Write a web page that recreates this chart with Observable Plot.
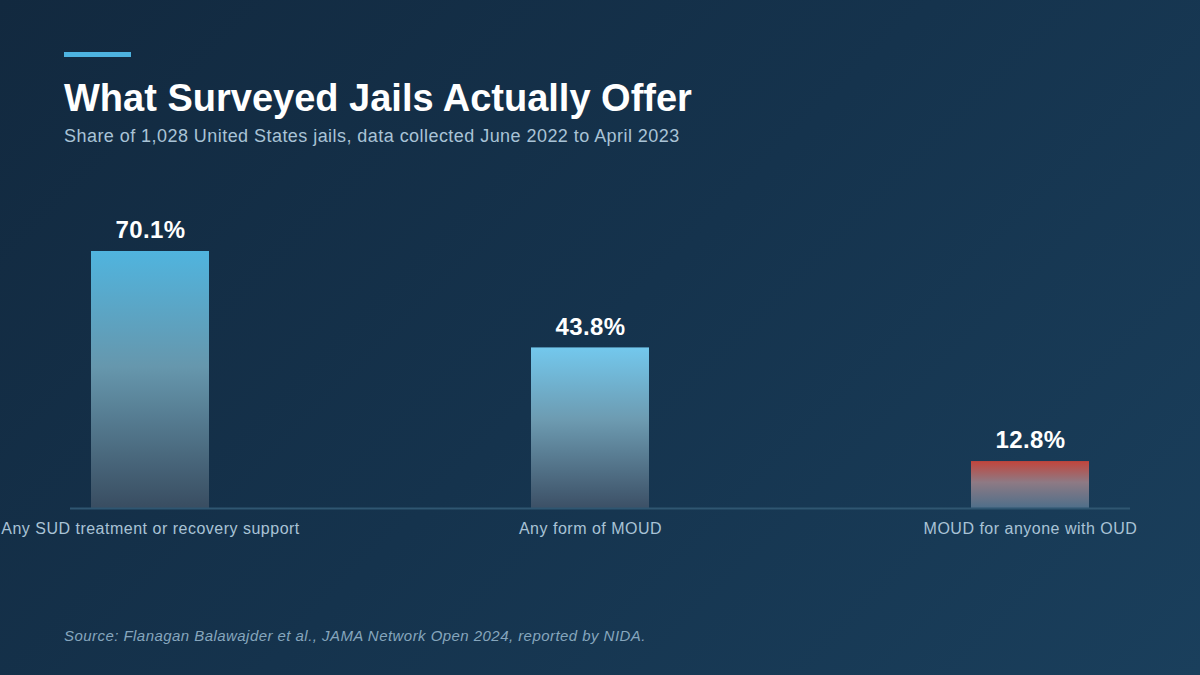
<!DOCTYPE html>
<html>
<head>
<meta charset="utf-8">
<script src="https://cdn.jsdelivr.net/npm/d3@7"></script>
<script src="https://cdn.jsdelivr.net/npm/@observablehq/plot@0.6"></script>
<style>
  html, body { margin: 0; padding: 0; }
  body {
    width: 1200px; height: 675px; overflow: hidden;
    background: linear-gradient(135deg, #12293f 0%, #15334d 50%, #1a3f5c 100%);
    font-family: "Liberation Sans", Arial, Helvetica, sans-serif;
    position: relative;
  }
  #accent { position: absolute; left: 64px; top: 52px; width: 67px; height: 5px; background: #4db3e0; }
  #title { position: absolute; left: 64px; top: 79px; font-size: 38px; line-height: 38px; font-weight: 700; color: #ffffff; white-space: nowrap; }
  #subtitle { position: absolute; left: 64px; top: 127px; font-size: 18px; line-height: 18px; letter-spacing: 0.45px; color: #a9c3d6; white-space: nowrap; }
  #chart { position: absolute; left: 0; top: 160px; }
  #source { position: absolute; left: 64px; top: 628px; font-size: 15px; line-height: 15px; letter-spacing: 0.45px; font-style: italic; color: #86a6bd; white-space: nowrap; }
  .xlab text { letter-spacing: 0.5px; }
  .vlab text { letter-spacing: 0.4px; }
</style>
</head>
<body>
<div id="accent"></div>
<div id="title">What Surveyed Jails Actually Offer</div>
<div id="subtitle">Share of 1,028 United States jails, data collected June 2022 to April 2023</div>
<div id="chart"></div>
<div id="source">Source: Flanagan Balawajder et al., JAMA Network Open 2024, reported by NIDA.</div>
<script>
const categories = [
  "Any SUD treatment or recovery support",
  "Any form of MOUD",
  "MOUD for anyone with OUD"
];
const values = [70.1, 43.8, 12.8];
const valueLabels = ["70.1%", "43.8%", "12.8%"];

const gradientStops = [
  [["0", "#50b4de"], ["0.45", "#6697ad"], ["1", "#394d61"]],
  [["0", "#73c8ed"], ["0.45", "#6d9bb1"], ["1", "#3c5066"]],
  [["0", "#c2453c"], ["0.45", "#8e7a84"], ["1", "#4f6f8a"]]
];

const data = categories.map((c, i) => ({
  category: c,
  value: values[i],
  label: valueLabels[i],
  fill: `url(#barGrad${i})`
}));

const svg = Plot.plot({
  width: 1200,
  height: 400,
  marginLeft: 70,
  marginRight: 70,
  marginTop: 54.7,
  marginBottom: 52,
  style: { background: "transparent", fontFamily: "'Liberation Sans', Arial, Helvetica, sans-serif", overflow: "visible" },
  x: { domain: categories, range: [90, 1090], paddingInner: 0.7324, paddingOuter: 0, label: null },
  y: { domain: [0, 80], axis: null },
  color: { type: "identity" },
  marks: [
    Plot.barY(data, { x: "category", y: "value", fill: "fill" }),
    Plot.ruleY([0], { stroke: "#2f5671", strokeWidth: 2 }),
    Plot.text(data, {
      x: "category", y: "value", text: "label",
      dy: -21, fill: "#ffffff", fontSize: 24, fontWeight: "bold", className: "vlab"
    }),
    Plot.axisX({
      tickSize: 0, tickPadding: 14, fontSize: 16, fill: "#a9c3d6", label: null, className: "xlab"
    })
  ]
});

const defs = d3.select(svg).insert("defs", ":first-child");
gradientStops.forEach((stops, i) => {
  const g = defs.append("linearGradient")
    .attr("id", `barGrad${i}`)
    .attr("x1", 0).attr("y1", 0).attr("x2", 0).attr("y2", 1);
  stops.forEach(([off, col]) => g.append("stop").attr("offset", off).attr("stop-color", col));
});

document.getElementById("chart").appendChild(svg);
</script>
</body>
</html>
